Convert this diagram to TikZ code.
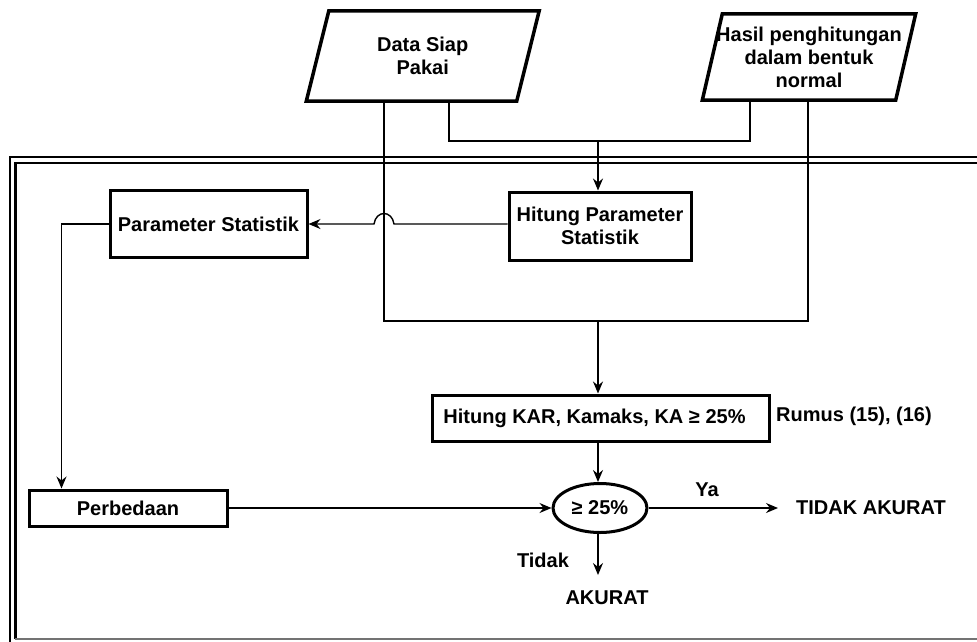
\documentclass[tikz,border=0pt]{standalone}
\usepackage{fontspec}
\setmainfont{Liberation Sans}
\usetikzlibrary{arrows.meta,calc,shapes.geometric}
\begin{document}
\begin{tikzpicture}[x=1pt,y=-1pt,
  font=\fontsize{20}{23}\selectfont\bfseries,
  box/.style={draw, line width=3pt, inner sep=0pt, align=center},
  paranode/.style={inner sep=0pt, align=center, minimum width=210pt},
  paraline/.style={line width=3.5pt, line join=miter},
  conn/.style={line width=1.4pt},
  arr/.style={conn, -{Stealth[length=12pt,width=10pt,inset=4pt]}},
  lbl/.style={inner sep=0pt},
  frame/.style={line width=2.4pt}]
\useasboundingbox (0,0) rectangle (977,641);

% outer frame (double line)
\draw[frame] (10,650) -- (10,157) -- (990,157);
\draw[frame] (990,163) -- (15.5,163) -- (15.5,639);
\draw[line width=1.6pt, black!55] (14.5,639) -- (990,639);

% input parallelograms
\node[paranode, minimum height=90pt] (data) at (422.75,56) {Data Siap\\Pakai};
\draw[paraline] ($(data.north west)+(11.25,0)$) -- ($(data.north east)+(11.25,0)$)
  -- ($(data.south east)+(-11.25,0)$) -- ($(data.south west)+(-11.25,0)$) -- cycle;
\node[paranode, minimum width=193pt, minimum height=86pt] (hasil) at (809,57) {Hasil penghitungan\\dalam bentuk\\normal};
\draw[paraline] ($(hasil.north west)+(10,0)$) -- ($(hasil.north east)+(10,0)$)
  -- ($(hasil.south east)+(-10,0)$) -- ($(hasil.south west)+(-10,0)$) -- cycle;

% process boxes
\node[box, minimum width=197pt, minimum height=67pt] (ps) at (208.5,224) {Parameter Statistik};
\node[box, minimum width=182pt, minimum height=68pt] (hp) at (600,226) {Hitung Parameter\\Statistik};
\node[box, minimum width=337pt, minimum height=46pt] (kar) at (600.5,418) {Hitung KAR, Kamaks, KA ≥ 25\%\hspace{12pt}};
\node[box, minimum width=198pt, minimum height=36pt] (pb) at (128,508) {Perbedaan};
\node[draw, ellipse, line width=3pt, inner sep=0pt, minimum width=94pt, minimum height=49pt] (ell) at (600,508) {≥ 25\%};

% labels / terminals
\node[lbl] (rumus) at (854,416) {Rumus (15), (16)};
\node[lbl] (ya) at (707,490) {Ya};
\node[lbl, anchor=west] (ta) at (796,508) {TIDAK AKURAT};
\node[lbl] (tidak) at (543,560) {Tidak};
\node[lbl] (ak) at (607,598) {AKURAT};

% junction coordinates
\coordinate (dA) at (384,101);
\coordinate (dB) at (449,101);
\coordinate (hA) at (750,100);
\coordinate (hB) at (808,100);
\coordinate (jt1) at (449,141);
\coordinate (jt2) at (750,141);
\coordinate (jtm) at (598,141);
\coordinate (jb1) at (384,321);
\coordinate (jb2) at (808,321);
\coordinate (jbm) at (598,321);
\coordinate (hop) at (384,224);

% connectors
\draw[conn] (dB) -- (jt1) -- (jt2) -- (hA);
\draw[arr] (jtm) -- (jtm |- hp.north);
\draw[conn] (dA) -- (jb1) -- (jb2) -- (hB);
\draw[arr] (jbm) -- (jbm |- kar.north);
\draw[arr] (hp.west |- hop) -- ($(hop)+(10,0)$)
  .. controls ($(hop)+(8,-14)$) and ($(hop)+(-8,-14)$) .. ($(hop)+(-10,0)$)
  -- (ps.east |- hop);
\draw[arr] (ps.west) -| ($(pb.north west)+(34,0)$);
\draw[arr] (pb.east) -- (ell.west);
\draw[arr] (kar.south -| jbm) -- (jbm |- ell.north);
\draw[arr, shorten >=18pt] (ell.east) -- (ta.west);
\draw[arr] (jbm |- ell.south) -- (598,575);
\end{tikzpicture}
\end{document}
